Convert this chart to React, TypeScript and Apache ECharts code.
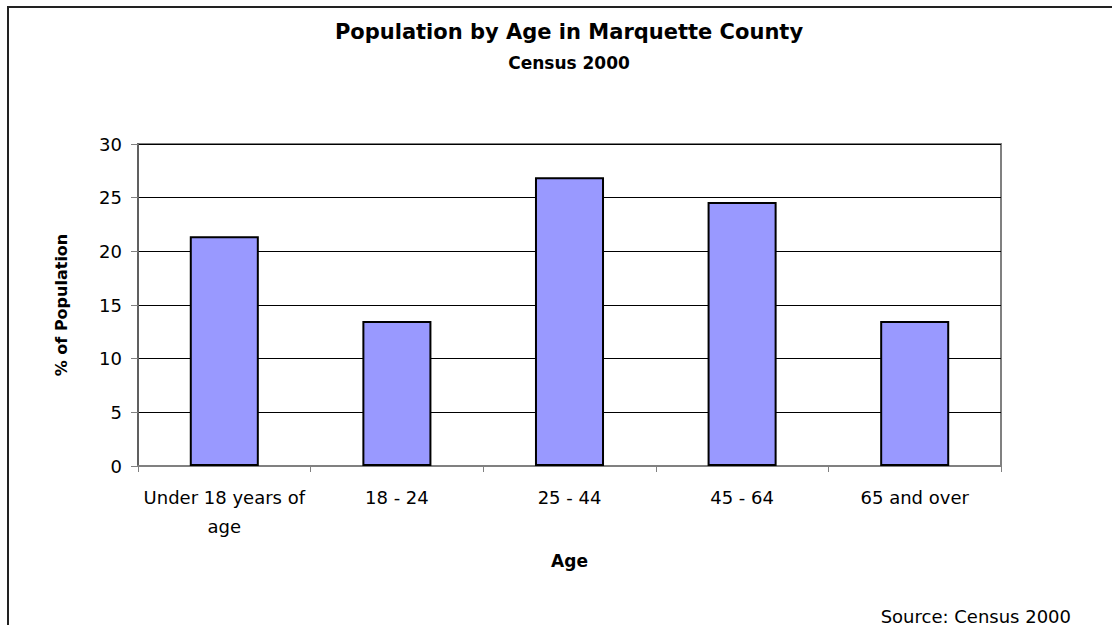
import React, { useEffect, useRef } from "react";
import * as echarts from "echarts";

const categories = ["Under 18 years of age", "18 - 24", "25 - 44", "45 - 64", "65 and over"];
const percentValues = [21.4, 13.5, 26.9, 24.6, 13.5];
const yTicks = { min: 0, max: 30, interval: 5 };

const FONT = "'DejaVu Sans', 'Liberation Sans', Arial, sans-serif";

export default function App() {
  const ref = useRef<HTMLDivElement>(null);
  useEffect(() => {
    if (!ref.current) return;
    const chart = echarts.init(ref.current, null, { renderer: "svg" });
    chart.setOption({
      animation: false,
      backgroundColor: "#ffffff",
      textStyle: { fontFamily: FONT },
      graphic: [
        {
          type: "line",
          shape: { x1: 8, y1: 7, x2: 1112, y2: 7 },
          style: { stroke: "#222", lineWidth: 2 },
          silent: true,
        },
        {
          type: "line",
          shape: { x1: 8, y1: 6, x2: 8, y2: 625 },
          style: { stroke: "#222", lineWidth: 2 },
          silent: true,
        },
        {
          type: "text",
          x: 569,
          y: 32,
          style: {
            text: "Population by Age in Marquette County",
            font: `bold 21px ${FONT}`,
            fill: "#000",
            align: "center",
            verticalAlign: "middle",
          },
        },
        {
          type: "text",
          x: 569,
          y: 63,
          style: {
            text: "Census 2000",
            font: `bold 17px ${FONT}`,
            fill: "#000",
            align: "center",
            verticalAlign: "middle",
          },
        },
        {
          type: "text",
          x: 1071,
          y: 616,
          style: {
            text: "Source: Census 2000",
            font: `18px ${FONT}`,
            fill: "#000",
            align: "right",
            verticalAlign: "middle",
          },
        },
      ],
      grid: {
        left: 138,
        right: 111,
        top: 144,
        bottom: 159,
        show: true,
        borderColor: "#808080",
        borderWidth: 2,
        backgroundColor: "#ffffff",
      },
      xAxis: {
        type: "category",
        data: categories,
        boundaryGap: true,
        name: "Age",
        nameLocation: "middle",
        nameGap: 86,
        nameTextStyle: { fontFamily: FONT, fontSize: 17, fontWeight: "bold", color: "#000" },
        axisLine: { lineStyle: { color: "#808080", width: 2 } },
        axisTick: { show: true, alignWithLabel: false, length: 6, lineStyle: { color: "#808080" } },
        axisLabel: {
          fontFamily: FONT,
          fontSize: 18,
          color: "#000",
          margin: 17,
          lineHeight: 29,
          interval: 0,
          formatter: (v: string) => (v === "Under 18 years of age" ? "Under 18 years of\nage" : v),
        },
      },
      yAxis: {
        type: "value",
        min: yTicks.min,
        max: yTicks.max,
        interval: yTicks.interval,
        name: "% of Population",
        nameLocation: "middle",
        nameGap: 69,
        nameRotate: 90,
        nameTextStyle: { fontFamily: FONT, fontSize: 16, fontWeight: "bold", color: "#000" },
        axisLine: { show: true, lineStyle: { color: "#606060", width: 2 } },
        axisTick: { show: true, length: 7, lineStyle: { color: "#808080" } },
        axisLabel: { fontFamily: FONT, fontSize: 18, color: "#000", margin: 16 },
        splitLine: { show: true, lineStyle: { color: "#000", width: 1 } },
      },
      series: [
        {
          type: "bar",
          data: percentValues,
          barWidth: "40%",
          itemStyle: { color: "#9999FF", borderColor: "#000", borderWidth: 2 },
        },
      ],
    });
    return () => chart.dispose();
  }, []);
  return (
    <div
      ref={ref}
      style={{ position: "absolute", left: 0, top: 0, width: 1112, height: 625 }}
    />
  );
}
